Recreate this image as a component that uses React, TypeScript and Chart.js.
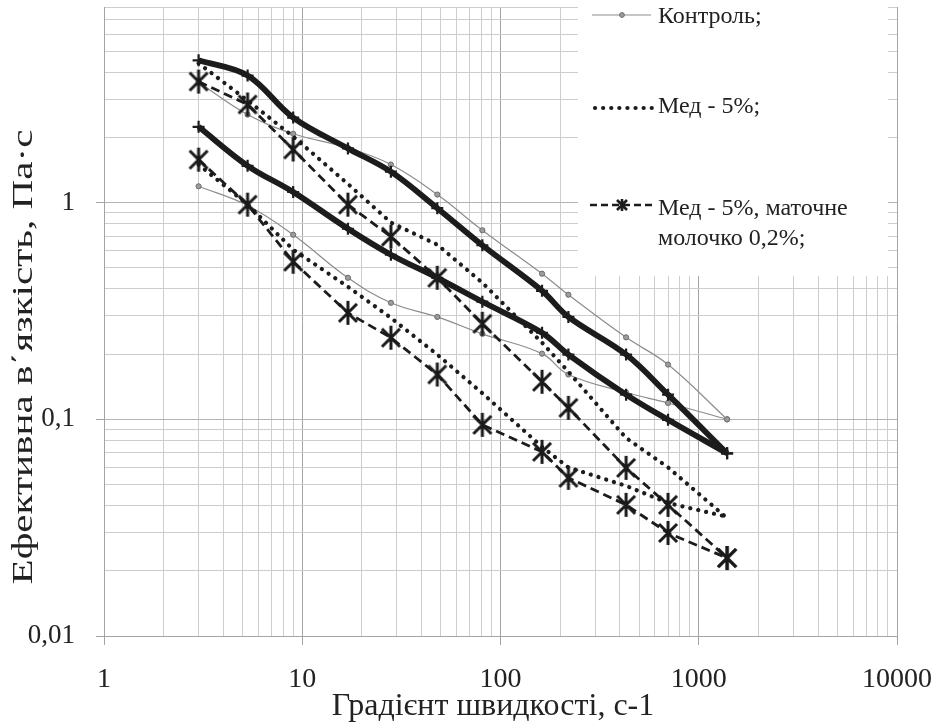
import React, { useEffect, useRef } from "react";
import { Chart, registerables } from "chart.js";

Chart.register(...registerables);

// Shear rate (x), s^-1
const shearRate = [3, 5.3, 9, 17, 28, 48, 81, 162, 220, 430, 700, 1390];

// Control (thin grey with circles)
const controlUpper = [3.6, 2.55, 2.08, 1.79, 1.5, 1.09, 0.746, 0.47, 0.376, 0.239, 0.179, 0.1];
const controlLower = [1.19, 0.97, 0.711, 0.45, 0.345, 0.297, 0.248, 0.201, 0.161, 0.133, 0.119, 0.1];

// Thick solid series
const thickUpper = [4.54, 3.86, 2.47, 1.78, 1.39, 0.943, 0.636, 0.392, 0.297, 0.199, 0.13, 0.0697];
const thickLower = [2.24, 1.48, 1.12, 0.758, 0.575, 0.45, 0.349, 0.251, 0.199, 0.13, 0.0995, 0.0697];

// Honey 5% (dotted)
const honeyUpper = [4.4, 2.96, 2.02, 1.22, 0.81, 0.64, 0.427, 0.226, 0.166, 0.082, 0.06, 0.035];
const honeyLower = [1.5, 0.98, 0.607, 0.409, 0.294, 0.199, 0.132, 0.0746, 0.06, 0.0493, 0.0411, 0.0355];

// Honey 5% + royal jelly 0.2% (dashed, asterisk)
const jellyUpper = [3.62, 2.84, 1.76, 0.979, 0.697, 0.45, 0.276, 0.149, 0.113, 0.0597, 0.0403, 0.0229];
const jellyLower = [1.58, 0.979, 0.534, 0.31, 0.238, 0.161, 0.0943, 0.0708, 0.0537, 0.0403, 0.0299, 0.0229];

const xTickLabels: [number, string][] = [[1, "1"], [10, "10"], [100, "100"], [1000, "1000"], [10000, "10000"]];
const yTickLabels: [number, string][] = [[0.01, "0,01"], [0.1, "0,1"], [1, "1"]];
const xTitle = "Градієнт швидкості, с-1";
const yTitle = "Ефективна в΄язкість, Па·с";
const legendControl = "Контроль;";
const legendHoney = "Мед - 5%;";
const legendJelly1 = "Мед - 5%, маточне";
const legendJelly2 = "молочко 0,2%;";

const X_MIN = 1, X_MAX = 10000, Y_MIN = 0.01, Y_MAX = 8;
const FONT = '"Liberation Serif", "Times New Roman", serif';

function logTicks(min: number, max: number): number[] {
  const out: number[] = [];
  const e0 = Math.floor(Math.log10(min));
  const e1 = Math.ceil(Math.log10(max));
  for (let e = e0; e <= e1; e++) {
    for (let m = 1; m <= 9; m++) {
      const v = Number((m * Math.pow(10, e)).toPrecision(6));
      if (v >= min - 1e-12 && v <= max + 1e-12) out.push(v);
    }
  }
  return out;
}
const isDecade = (v: number) => Math.abs(Math.log10(v) - Math.round(Math.log10(v))) < 1e-9;
const labelFor = (v: number, table: [number, string][]) => {
  for (const [k, s] of table) if (Math.abs(v - k) / k < 1e-6) return s;
  return "";
};

export default function App() {
  const ref = useRef<HTMLCanvasElement>(null);

  useEffect(() => {
    document.body.style.margin = "0";
    const canvas = ref.current!;

    const star = document.createElement("canvas");
    star.width = 24;
    star.height = 26;
    const s = star.getContext("2d")!;
    s.strokeStyle = "#1a1a1a";
    s.lineWidth = 3;
    s.beginPath();
    s.moveTo(3, 4); s.lineTo(21, 22);
    s.moveTo(21, 4); s.lineTo(3, 22);
    s.moveTo(12, 1); s.lineTo(12, 25);
    s.stroke();

    const mk = (ys: number[]) => shearRate.map((x, i) => ({ x, y: ys[i] }));

    const controlStyle = {
      borderColor: "#8c8c8c", borderWidth: 1.2, tension: 0.4,
      pointRadius: 2.6, pointBackgroundColor: "#9c9c9c", pointBorderColor: "#6c6c6c", pointBorderWidth: 1,
      order: 4,
    };
    const thickStyle = {
      borderColor: "#1c1c1c", borderWidth: 5.8, tension: 0.35,
      pointStyle: "cross", pointRadius: 6, pointBorderWidth: 2.2, pointBorderColor: "#1c1c1c",
      order: 1,
    };
    const honeyStyle = {
      borderColor: "#1c1c1c", borderWidth: 4.2, borderDash: [0.1, 8], borderCapStyle: "round",
      pointRadius: 0, tension: 0, order: 3,
    };
    const jellyStyle = {
      borderColor: "#1c1c1c", borderWidth: 2.8, borderDash: [9, 5], tension: 0,
      pointStyle: star, pointRadius: 11, order: 2,
    };

    const xTicks = logTicks(X_MIN, X_MAX);
    const yTicks = logTicks(Y_MIN, Y_MAX);

    const overlay = {
      id: "overlay",
      beforeDatasetsDraw(chart: any) {
        const ctx = chart.ctx;
        ctx.save();
        ctx.fillStyle = "#ffffff";
        ctx.fillRect(578, 0, 310, 276);
        ctx.restore();
      },
      afterDraw(chart: any) {
        const ctx = chart.ctx as CanvasRenderingContext2D;
        ctx.save();
        // legend: control
        ctx.strokeStyle = "#8c8c8c";
        ctx.lineWidth = 1.2;
        ctx.beginPath(); ctx.moveTo(592, 15); ctx.lineTo(651, 15); ctx.stroke();
        ctx.fillStyle = "#9c9c9c"; ctx.strokeStyle = "#6c6c6c"; ctx.lineWidth = 1;
        ctx.beginPath(); ctx.arc(622, 15, 2.4, 0, Math.PI * 2); ctx.fill(); ctx.stroke();
        // legend: dotted
        ctx.strokeStyle = "#1c1c1c"; ctx.lineWidth = 4.2; ctx.lineCap = "round";
        ctx.setLineDash([0.1, 8]);
        ctx.beginPath(); ctx.moveTo(595, 108); ctx.lineTo(652, 108); ctx.stroke();
        // legend: dashed + asterisk
        ctx.lineCap = "butt"; ctx.lineWidth = 2.6; ctx.setLineDash([7, 4]);
        ctx.beginPath(); ctx.moveTo(590, 205); ctx.lineTo(652, 205); ctx.stroke();
        ctx.setLineDash([]); ctx.lineWidth = 2.6;
        ctx.beginPath();
        ctx.moveTo(617, 200); ctx.lineTo(627, 210);
        ctx.moveTo(627, 200); ctx.lineTo(617, 210);
        ctx.moveTo(622, 199); ctx.lineTo(622, 211);
        ctx.stroke();
        // legend texts
        ctx.fillStyle = "#222";
        ctx.font = `24px ${FONT}`;
        ctx.textAlign = "left";
        ctx.textBaseline = "alphabetic";
        ctx.fillText(legendControl, 658, 23);
        ctx.fillText(legendHoney, 658, 113);
        ctx.fillText(legendJelly1, 658, 215);
        ctx.fillText(legendJelly2, 658, 245);
        // x title
        ctx.font = `32px ${FONT}`;
        ctx.textAlign = "center";
        ctx.fillText(xTitle, 493, 715);
        // y title
        ctx.font = `30px ${FONT}`;
        ctx.translate(32, 357);
        ctx.rotate(-Math.PI / 2);
        const w = ctx.measureText(yTitle).width;
        ctx.scale(455 / w, 1);
        ctx.fillText(yTitle, 0, 0);
        ctx.restore();
      },
    };

    const chart = new Chart(canvas, {
      type: "line",
      data: {
        datasets: [
          { label: "Серія 1", data: mk(thickUpper), ...thickStyle },
          { label: "Серія 2", data: mk(thickLower), ...thickStyle },
          { label: "Контроль", data: mk(controlUpper), ...controlStyle },
          { label: "Контроль ", data: mk(controlLower), ...controlStyle },
          { label: "Мед - 5%", data: mk(honeyUpper), ...honeyStyle },
          { label: "Мед - 5% ", data: mk(honeyLower), ...honeyStyle },
          { label: "Мед - 5%, маточне молочко 0,2%", data: mk(jellyUpper), ...jellyStyle },
          { label: "Мед - 5%, маточне молочко 0,2% ", data: mk(jellyLower), ...jellyStyle },
        ] as any,
      },
      options: {
        responsive: false,
        animation: false,
        devicePixelRatio: 1,
        layout: { autoPadding: false, padding: { top: 7, right: 42, left: 0, bottom: 0 } },
        plugins: { legend: { display: false }, tooltip: { enabled: false }, title: { display: false } },
        scales: {
          x: {
            type: "logarithmic",
            min: X_MIN,
            max: X_MAX,
            afterBuildTicks: (scale: any) => { scale.ticks = xTicks.map((v) => ({ value: v })); },
            afterFit: (scale: any) => {
              scale.height = 88;
              scale.paddingLeft = 0; scale.paddingRight = 0;
              scale.paddingTop = 0; scale.paddingBottom = 0;
            },
            ticks: {
              autoSkip: false, maxRotation: 0, minRotation: 0, padding: 18, color: "#222",
              font: { family: FONT, size: 28 },
              callback: (v: any) => labelFor(Number(v), xTickLabels),
            },
            grid: {
              color: (c: any) => (c.tick && isDecade(c.tick.value) ? "#a4a4a4" : "#cdcdcd"),
              tickColor: (c: any) => (c.tick && isDecade(c.tick.value) ? "#a4a4a4" : "rgba(0,0,0,0)"),
              tickLength: 9,
              lineWidth: 1,
            },
            border: { display: true, color: "#a4a4a4", width: 1 },
          },
          y: {
            type: "logarithmic",
            min: Y_MIN,
            max: Y_MAX,
            afterBuildTicks: (scale: any) => { scale.ticks = yTicks.map((v) => ({ value: v })); },
            afterFit: (scale: any) => {
              scale.width = 104;
              scale.paddingTop = 0; scale.paddingBottom = 0;
              scale.paddingLeft = 0; scale.paddingRight = 0;
            },
            ticks: {
              autoSkip: false, padding: 21, color: "#222",
              font: { family: FONT, size: 27 },
              callback: (v: any) => labelFor(Number(v), yTickLabels),
            },
            grid: {
              color: (c: any) => (c.tick && isDecade(c.tick.value) ? "#b4b4b4" : "#cdcdcd"),
              tickColor: (c: any) => (c.tick && isDecade(c.tick.value) ? "#a4a4a4" : "rgba(0,0,0,0)"),
              tickLength: 8,
              lineWidth: 1,
            },
            border: { display: true, color: "#a4a4a4", width: 1 },
          },
        },
      } as any,
      plugins: [overlay],
    });

    return () => chart.destroy();
  }, []);

  return (
    <div style={{ width: 939, height: 724, background: "#fff" }}>
      <canvas ref={ref} width={939} height={724} style={{ display: "block", width: 939, height: 724 }} />
    </div>
  );
}
